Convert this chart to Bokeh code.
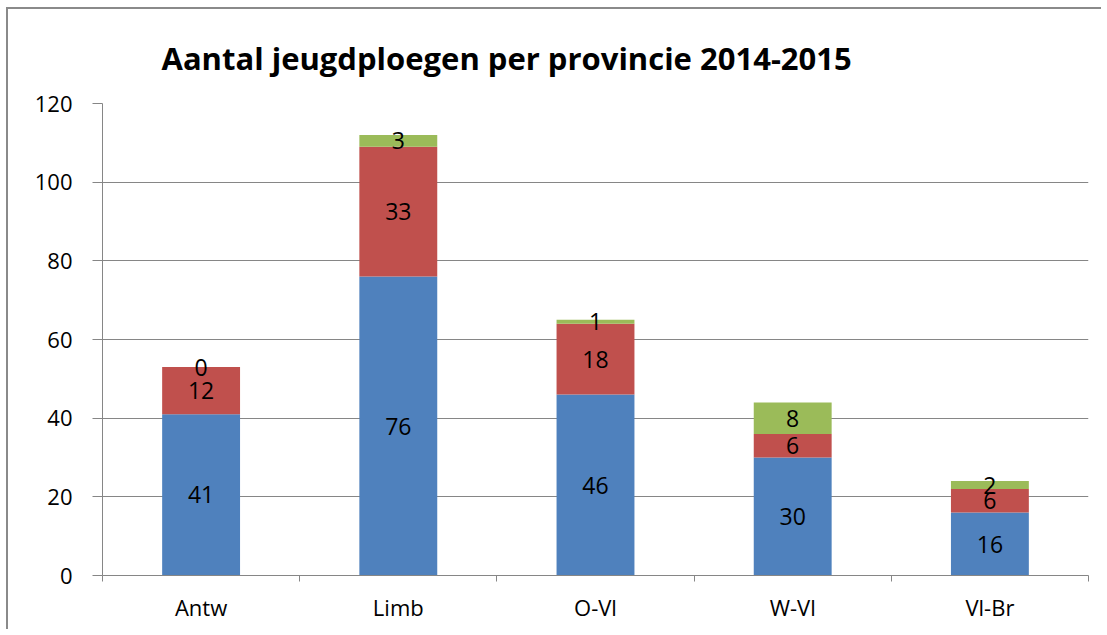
from bokeh.plotting import figure
from bokeh.models import ColumnDataSource, LabelSet, FixedTicker, Range1d
from bokeh.core.properties import value
from bokeh.embed import file_html
from bokeh.resources import INLINE

categories = ["Antw", "Limb", "O-Vl", "W-Vl", "Vl-Br"]
series_blue = [41, 76, 46, 30, 16]
series_red = [12, 33, 18, 6, 6]
series_green = [0, 3, 1, 8, 2]
y_ticks = [0, 20, 40, 60, 80, 100, 120]

FONT = "Open Sans"
colors = ["#4F81BD", "#C0504D", "#9BBB59"]

xs = [i + 0.5 for i in range(len(categories))]
b0 = [0] * len(categories)
b1 = list(series_blue)
b2 = [a + b for a, b in zip(series_blue, series_red)]
b3 = [a + b for a, b in zip(b2, series_green)]

src = ColumnDataSource(dict(
    x=xs, b0=b0, b1=b1, b2=b2, b3=b3,
    m1=[(a + b) / 2 for a, b in zip(b0, b1)],
    m2=[(a + b) / 2 for a, b in zip(b1, b2)],
    m3=[(a + b) / 2 for a, b in zip(b2, b3)],
    t1=[str(v) for v in series_blue],
    t2=[str(v) for v in series_red],
    t3=[str(v) for v in series_green],
))

p = figure(width=1099, height=626, output_backend="svg", toolbar_location=None,
           x_range=Range1d(0, len(categories)), y_range=Range1d(0, 120),
           min_border_left=94, min_border_right=19, min_border_top=92, min_border_bottom=60)
p.margin = (9, 0, 0, 8)
# outer chart-area border: only its left and top edges are in view
p.styles = {"box-shadow": "-4px -4px 0px -2px #8a8a8a"}
p.outline_line_color = None
p.background_fill_color = "white"
p.border_fill_color = "white"

p.title.text = "Aantal jeugdploegen per provincie 2014-2015"
p.title.text_font = FONT
p.title.text_font_style = "bold"
p.title.text_font_size = "31px"
p.title.text_color = "black"
p.title.align = "left"
p.title.offset = 59
p.title.standoff = 50

for bot, top, c in (("b0", "b1", colors[0]), ("b1", "b2", colors[1]), ("b2", "b3", colors[2])):
    p.vbar(x="x", bottom=bot, top=top, width=0.395, fill_color=c, line_color=None, source=src)

for m, t in (("m1", "t1"), ("m2", "t2"), ("m3", "t3")):
    p.add_layout(LabelSet(x="x", y=m, text=t, source=src, text_align="center",
                          text_baseline="middle", text_font=value(FONT),
                          text_font_size=value("23px"), text_color=value("black")))

# y axis
ya = p.yaxis[0]
ya.ticker = FixedTicker(ticks=y_ticks)
ya.axis_line_color = "#868686"
ya.major_tick_line_color = "#868686"
ya.major_tick_out = 10
ya.major_tick_in = 0
ya.minor_tick_line_color = None
ya.major_label_text_font = FONT
ya.major_label_text_font_size = "22px"
ya.major_label_text_color = "black"
ya.major_label_standoff = 20

# x axis
xa = p.xaxis[0]
xa.ticker = FixedTicker(ticks=xs, minor_ticks=list(range(len(categories) + 1)))
xa.major_label_overrides = {x: c for x, c in zip(xs, categories)}
xa.axis_line_color = "#868686"
xa.major_tick_line_color = None
xa.major_tick_out = 0
xa.major_tick_in = 0
xa.minor_tick_line_color = "#868686"
xa.minor_tick_out = 6
xa.minor_tick_in = 0
xa.major_label_text_font = FONT
xa.major_label_text_font_size = "22px"
xa.major_label_text_color = "black"
xa.major_label_standoff = 10

p.xgrid.grid_line_color = None
p.ygrid.ticker = FixedTicker(ticks=y_ticks)
p.ygrid.grid_line_color = "#868686"
p.ygrid.grid_line_width = 1

open("out.html", "w").write(file_html(p, INLINE))
